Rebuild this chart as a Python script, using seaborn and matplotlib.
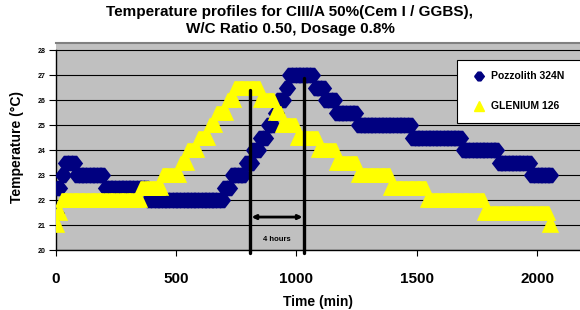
import matplotlib
matplotlib.use("Agg")
import matplotlib.pyplot as plt
import seaborn as sns
import pandas as pd
from matplotlib.lines import Line2D

# ---------------- data ----------------
time_min = list(range(0, 2056, 15))  # sampling grid, 15 min

pozzolith = [
    21.5, 22.5, 23, 23.5, 23.5, 23.5, 23, 23, 23, 23,          # 0-135
    23, 23, 23, 23, 22.5, 22.5, 22.5, 22.5, 22.5, 22.5,        # 150-285
    22.5, 22.5, 22.5, 22.5, 22.5, 22.5, 22, 22, 22, 22,        # 300-435
    22, 22, 22, 22, 22, 22, 22, 22, 22, 22,                    # 450-585
    22, 22, 22, 22, 22, 22, 22, 22.5, 22.5, 23,                # 600-735
    23, 23, 23, 23.5, 23.5, 24, 24, 24.5, 24.5, 25,            # 750-885
    25, 25.5, 26, 26, 26.5, 27, 27, 27, 27, 27,                # 900-1035
    27, 27, 26.5, 26.5, 26.5, 26, 26, 26, 25.5, 25.5,          # 1050-1185
    25.5, 25.5, 25.5, 25.5, 25, 25, 25, 25, 25, 25,            # 1200-1335
    25, 25, 25, 25, 25, 25, 25, 25, 25, 24.5,                  # 1350-1485
    24.5, 24.5, 24.5, 24.5, 24.5, 24.5, 24.5, 24.5, 24.5, 24.5,  # 1500-1635
    24.5, 24.5, 24.5, 24, 24, 24, 24, 24, 24, 24,              # 1650-1785
    24, 24, 24, 23.5, 23.5, 23.5, 23.5, 23.5, 23.5, 23.5,      # 1800-1935
    23.5, 23.5, 23, 23, 23, 23, 23, 23,                        # 1950-2055
]

glenium = [
    21, 21.5, 22, 22, 22, 22, 22, 22, 22, 22,                  # 0-135
    22, 22, 22, 22, 22, 22, 22, 22, 22, 22,                    # 150-285
    22, 22, 22, 22, 22.5, 22.5, 22.5, 22.5, 22.5, 22.5,        # 300-435
    23, 23, 23, 23, 23, 23.5, 23.5, 24, 24, 24,                # 450-585
    24.5, 24.5, 24.5, 25, 25, 25.5, 25.5, 25.5, 26, 26,        # 600-735
    26.5, 26.5, 26.5, 26.5, 26.5, 26.5, 26.5, 26, 26, 26,      # 750-885
    26, 25.5, 25.5, 25, 25, 25, 25, 24.5, 24.5, 24.5,          # 900-1035
    24.5, 24.5, 24.5, 24, 24, 24, 24, 24, 23.5, 23.5,          # 1050-1185
    23.5, 23.5, 23.5, 23.5, 23, 23, 23, 23, 23, 23,            # 1200-1335
    23, 23, 23, 22.5, 22.5, 22.5, 22.5, 22.5, 22.5, 22.5,      # 1350-1485
    22.5, 22.5, 22.5, 22, 22, 22, 22, 22, 22, 22,              # 1500-1635
    22, 22, 22, 22, 22, 22, 22, 22, 22, 21.5,                  # 1650-1785
    21.5, 21.5, 21.5, 21.5, 21.5, 21.5, 21.5, 21.5, 21.5, 21.5,  # 1800-1935
    21.5, 21.5, 21.5, 21.5, 21.5, 21.5, 21.5, 21,              # 1950-2055
]

series_names = ["Pozzolith 324N", "GLENIUM 126"]
series_colors = ["#000080", "#FFFF00"]
x_ticks = [0, 500, 1000, 1500, 2000]
y_ticks = [20, 21, 22, 23, 24, 25, 26, 27, 28]
title_text = "Temperature profiles for CIII/A 50%(Cem I / GGBS),\nW/C Ratio 0.50, Dosage 0.8%"
x_label = "Time (min)"
y_label = "Temperature (°C)"
marker_lines_t = [808, 1032]          # vertical marker lines (min)
marker_lines_top = [26.4, 26.9]       # top of each marker line (°C)
span_label = "4 hours"

df = pd.DataFrame({"time": time_min, "poz": pozzolith, "glen": glenium})

# marker shapes (flat-topped so the dense points merge into bands)
hex_marker = [(-1, 0), (-0.3, 0.9), (0.3, 0.9), (1, 0), (0.3, -0.9), (-0.3, -0.9), (-1, 0)]
tri_marker = [(-1, -0.85), (1, -0.85), (0.22, 0.85), (-0.22, 0.85), (-1, -0.85)]

# ---------------- figure ----------------
sns.set_style("white")
plt.rcParams["font.family"] = ["Liberation Sans", "DejaVu Sans"]
plt.rcParams["font.weight"] = "bold"
for key in ["text.color", "axes.labelcolor", "xtick.color", "ytick.color"]:
    plt.rcParams[key] = "black"

fig = plt.figure(figsize=(5.8, 3.1), dpi=100)
ax = fig.add_axes([0.0957, 0.1935, 0.9043, 0.667])
ax.set_facecolor("#C0C0C0")

ax.set_xlim(0, 2178)
ax.set_ylim(20, 28.28)

for yv in y_ticks:
    ax.axhline(yv, color="black", lw=0.8, zorder=1)

sns.scatterplot(data=df, x="time", y="poz", ax=ax, marker=hex_marker, s=155,
                color=series_colors[0], edgecolor=series_colors[0],
                linewidth=0, zorder=3, legend=False)
sns.scatterplot(data=df, x="time", y="glen", ax=ax, marker=tri_marker, s=155,
                color=series_colors[1], edgecolor=series_colors[1],
                linewidth=0, zorder=4, legend=False)

# marker lines and span arrow
for t, top in zip(marker_lines_t, marker_lines_top):
    ax.plot([t, t], [19.87, top], color="black", lw=2.4, zorder=6,
            clip_on=False, solid_capstyle="round")
ax.annotate("", xy=(marker_lines_t[1] - 6, 21.32), xytext=(marker_lines_t[0] + 6, 21.32),
            arrowprops=dict(arrowstyle="<->", lw=2.0, color="black",
                            shrinkA=0, shrinkB=0, mutation_scale=6), zorder=6)
ax.text(sum(marker_lines_t) / 2, 20.42, span_label, ha="center", va="center",
        fontsize=5.5, fontweight="bold", zorder=6)

# axes styling
ax.set_xticks(x_ticks)
ax.set_yticks(y_ticks)
ax.set_xticklabels([str(v) for v in x_ticks], fontsize=11, fontweight="bold")
ax.set_yticklabels([str(v) for v in y_ticks], fontsize=5, fontweight="bold")
ax.tick_params(axis="x", direction="out", length=4, width=0.8, color="black",
               pad=12, bottom=True)
ax.tick_params(axis="y", direction="out", length=5, width=0.8, color="black",
               pad=2, left=True)

for side in ["left", "bottom"]:
    ax.spines[side].set_color("black")
    ax.spines[side].set_linewidth(1.0)
ax.spines["left"].set_bounds(20, 28)
ax.spines["top"].set_color("#808080")
ax.spines["top"].set_linewidth(1.5)
ax.spines["right"].set_visible(False)

ax.set_xlabel(x_label, fontsize=10, fontweight="bold", labelpad=6)
ax.set_ylabel(y_label, fontsize=10, fontweight="bold", labelpad=10)

fig.text(0.5, 0.984, title_text, ha="center", va="top", fontsize=11,
         fontweight="bold", linespacing=1.3)

# legend
handles = [
    Line2D([], [], ls="none", marker=hex_marker, markersize=7,
           markerfacecolor=series_colors[0], markeredgecolor=series_colors[0]),
    Line2D([], [], ls="none", marker="^", markersize=7,
           markerfacecolor=series_colors[1], markeredgecolor=series_colors[1]),
]
leg = ax.legend(handles, series_names, loc="upper left",
                bbox_to_anchor=(0.766, 0.919, 0.3, 0.0), mode="expand",
                frameon=True, fancybox=False,
                framealpha=1, edgecolor="black", fontsize=7.5,
                handlelength=2.0, handletextpad=0.1, labelspacing=1.9,
                borderpad=1.1, borderaxespad=0)
leg.get_frame().set_linewidth(0.8)
for txt in leg.get_texts():
    txt.set_fontweight("bold")
leg.set_zorder(10)

fig.savefig("out.png", dpi=100, facecolor="white")
